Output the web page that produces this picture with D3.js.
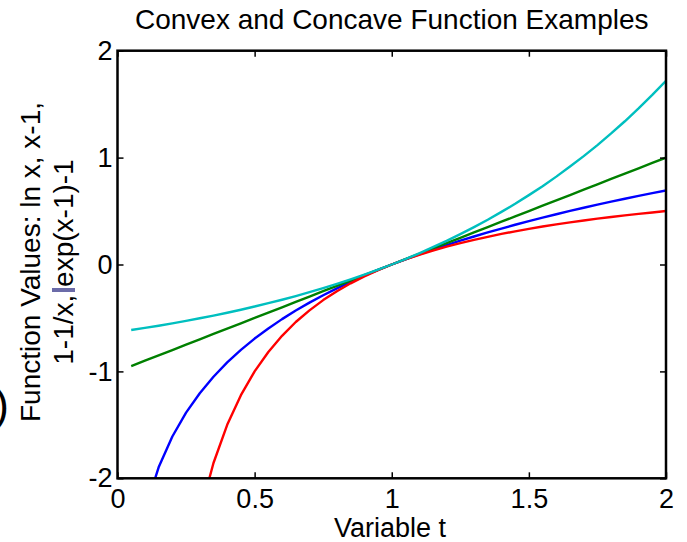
<!DOCTYPE html>
<meta charset="utf-8">
<script src="https://d3js.org/d3.v7.min.js"></script>
<style>
  body { margin: 0; background: #fff; }
  svg text { font-family: Arial, "Liberation Sans", sans-serif; fill: #000; }
</style>
<body>
<div id="chart"></div>
<script>
// sample points of the variable t
var tValues = [0.05, 0.10, 0.15, 0.20, 0.25, 0.30, 0.35, 0.40, 0.45, 0.50,
               0.55, 0.60, 0.65, 0.70, 0.75, 0.80, 0.85, 0.90, 0.95, 1.00,
               1.05, 1.10, 1.15, 1.20, 1.25, 1.30, 1.35, 1.40, 1.45, 1.50,
               1.55, 1.60, 1.65, 1.70, 1.75, 1.80, 1.85, 1.90, 1.95, 2.00];

// ln t (blue)
var lnValues = [-2.996, -2.303, -1.897, -1.609, -1.386, -1.204, -1.050, -0.916, -0.799, -0.693,
                -0.598, -0.511, -0.431, -0.357, -0.288, -0.223, -0.163, -0.105, -0.051, 0.000,
                 0.049,  0.095,  0.140,  0.182,  0.223,  0.262,  0.300,  0.336,  0.372, 0.405,
                 0.438,  0.470,  0.501,  0.531,  0.560,  0.588,  0.615,  0.642,  0.668, 0.693];

// t-1 (green)
var linValues = [-0.95, -0.90, -0.85, -0.80, -0.75, -0.70, -0.65, -0.60, -0.55, -0.50,
                 -0.45, -0.40, -0.35, -0.30, -0.25, -0.20, -0.15, -0.10, -0.05, 0.00,
                  0.05,  0.10,  0.15,  0.20,  0.25,  0.30,  0.35,  0.40,  0.45, 0.50,
                  0.55,  0.60,  0.65,  0.70,  0.75,  0.80,  0.85,  0.90,  0.95, 1.00];

// 1-1/t (red), off the bottom of the plot for small t
var invValues = [null, null, null, null, null, -2.333, -1.857, -1.500, -1.222, -1.000,
                 -0.818, -0.667, -0.538, -0.429, -0.333, -0.250, -0.176, -0.111, -0.053, 0.000,
                  0.048,  0.091,  0.130,  0.167,  0.200,  0.231,  0.259,  0.286,  0.310, 0.333,
                  0.355,  0.375,  0.394,  0.412,  0.429,  0.444,  0.459,  0.474,  0.487, 0.500];

// exp(t-1)-1 (cyan)
var expValues = [-0.613, -0.593, -0.573, -0.551, -0.528, -0.503, -0.478, -0.451, -0.423, -0.393,
                 -0.362, -0.330, -0.295, -0.259, -0.221, -0.181, -0.139, -0.095, -0.049, 0.000,
                  0.051,  0.105,  0.162,  0.221,  0.284,  0.350,  0.419,  0.492,  0.568, 0.649,
                  0.733,  0.822,  0.916,  1.014,  1.117,  1.226,  1.340,  1.460,  1.586, 1.718];

var xTicks = [0, 0.5, 1, 1.5, 2];
var yTicks = [-2, -1, 0, 1, 2];

var series = [
  { values: lnValues,  color: "#0000ff" },
  { values: linValues, color: "#008000" },
  { values: invValues, color: "#ff0000" },
  { values: expValues, color: "#00bfbf" }
];

var W = 687, H = 542;
var plot = { left: 117.5, right: 666, top: 50.7, bottom: 478.3 };

var svg = d3.select("#chart").append("svg")
    .attr("width", W)
    .attr("height", H);

var x = d3.scaleLinear().domain([0, 2]).range([plot.left, plot.right]);
var y = d3.scaleLinear().domain([-2, 2]).range([plot.bottom, plot.top]);

// plain hyphen for negative numbers, like the original figure
var fmt = function(d) { return String(d); };

// clip the curves to the axes box
svg.append("clipPath").attr("id", "plotClip")
  .append("rect")
    .attr("x", plot.left)
    .attr("y", plot.top)
    .attr("width", plot.right - plot.left)
    .attr("height", plot.bottom - plot.top);

var line = d3.line()
    .defined(function(d) { return d[1] !== null; })
    .x(function(d) { return x(d[0]); })
    .y(function(d) { return y(d[1]); });

var curves = svg.append("g").attr("clip-path", "url(#plotClip)");
series.forEach(function(s) {
  var pts = tValues.map(function(t, i) { return [t, s.values[i]]; });
  curves.append("path")
    .datum(pts)
    .attr("d", line)
    .attr("fill", "none")
    .attr("stroke", s.color)
    .attr("stroke-width", 2.4)
    .attr("stroke-linejoin", "round");
});

// axes: inward ticks on all four sides
function styleAxis(g) {
  g.select(".domain").remove();
  g.selectAll(".tick line").attr("stroke", "#000").attr("stroke-width", 1.5);
  g.selectAll(".tick text")
    .style("font-size", "27px")
    .style("font-family", "Arial, 'Liberation Sans', sans-serif")
    .attr("fill", "#000");
}

svg.append("g")
    .attr("transform", "translate(0," + plot.bottom + ")")
    .call(d3.axisBottom(x).tickValues(xTicks).tickSize(-6).tickPadding(11).tickFormat(fmt))
    .call(styleAxis);

svg.append("g")
    .attr("transform", "translate(0," + plot.top + ")")
    .call(d3.axisTop(x).tickValues(xTicks).tickSize(-6).tickFormat(""))
    .call(styleAxis);

svg.append("g")
    .attr("transform", "translate(" + plot.left + ",0)")
    .call(d3.axisLeft(y).tickValues(yTicks).tickSize(-6).tickPadding(5).tickFormat(fmt))
    .call(styleAxis);

svg.append("g")
    .attr("transform", "translate(" + plot.right + ",0)")
    .call(d3.axisRight(y).tickValues(yTicks).tickSize(-6).tickFormat(""))
    .call(styleAxis);

// axes box
svg.append("rect")
    .attr("x", plot.left)
    .attr("y", plot.top)
    .attr("width", plot.right - plot.left)
    .attr("height", plot.bottom - plot.top)
    .attr("fill", "none")
    .attr("stroke", "#000")
    .attr("stroke-width", 2.5);

// title
svg.append("text")
    .attr("x", (plot.left + plot.right) / 2)
    .attr("y", 29)
    .attr("text-anchor", "middle")
    .style("font-size", "28px")
    .text("Convex and Concave Function Examples");

// x label
svg.append("text")
    .attr("x", 390)
    .attr("y", 537)
    .attr("text-anchor", "middle")
    .style("font-size", "27px")
    .text("Variable t");

// y label, two lines
var yLabel = ["Function Values: ln x, x-1,", "1-1/x, exp(x-1)-1"];
var yLabelBase = [40, 73];
yLabel.forEach(function(txt, i) {
  svg.append("text")
    .attr("transform", "translate(" + yLabelBase[i] + ",262) rotate(-90)")
    .attr("text-anchor", "middle")
    .style("font-size", "28px")
    .text(txt);
});

// leftovers from the slide this figure was cut from
svg.append("rect")
    .attr("x", 52).attr("y", 288)
    .attr("width", 23).attr("height", 4)
    .attr("fill", "#6b6ba8");

svg.append("text")
    .attr("x", 9)
    .attr("y", 420)
    .attr("text-anchor", "end")
    .style("font-size", "44px")
    .text(")");
</script>
</body>
</html>
